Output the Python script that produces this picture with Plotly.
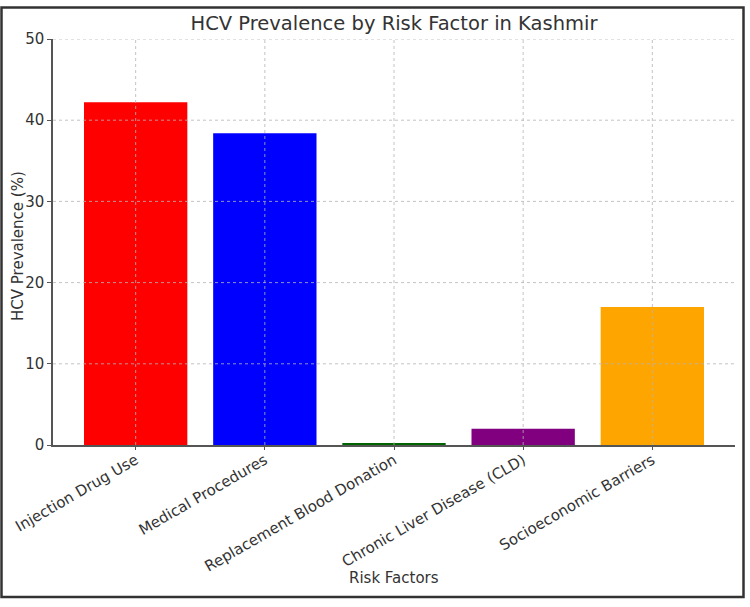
import plotly.graph_objects as go

categories = ["Injection Drug Use", "Medical Procedures", "Replacement Blood Donation",
              "Chronic Liver Disease (CLD)", "Socioeconomic Barriers"]
prevalence = [42.2, 38.4, 0.2, 2.0, 17.0]
bar_colors = ["#ff0000", "#0000ff", "#006400", "#800080", "#ffa500"]
y_ticks = [0, 10, 20, 30, 40, 50]

FONT = "DejaVu Sans"
L, R, T, B = 53, 15, 39, 162
W, H = 750, 607
pw, ph = W - L - R, H - T - B
x_idx = list(range(len(categories)))

fig = go.Figure(go.Bar(
    x=x_idx, y=prevalence,
    marker=dict(color=bar_colors, line=dict(width=0)),
    width=0.8,
))

fig.update_layout(
    width=W, height=H,
    margin=dict(l=L, r=R, t=T, b=B, autoexpand=False),
    paper_bgcolor="white", plot_bgcolor="white",
    font=dict(family=FONT, color="#333333"),
    showlegend=False,
    title=dict(text="HCV Prevalence by Risk Factor in Kashmir", x=(L + pw / 2) / W, xanchor="center",
               y=1 - 23 / H, yanchor="middle", font=dict(size=19.5, color="#333333")),
    xaxis=dict(range=[-0.64, 4.64], tickmode="array", tickvals=x_idx,
               ticktext=categories, tickangle=-30, tickfont=dict(size=15),
               ticklabelstandoff=-4,
               showline=True, linecolor="#555555", linewidth=1.5, showgrid=False,
               ticks="outside", ticklen=3, tickcolor="#555555", zeroline=False),
    yaxis=dict(range=[0, 50], tickmode="array", tickvals=y_ticks, tickfont=dict(size=15),
               showline=True, linecolor="#555555", linewidth=1.5, showgrid=False,
               ticks="outside", ticklen=4, tickcolor="#555555", zeroline=False),
)

# Axis titles placed as annotations
def px2x(px):
    return (px - L) / pw

def py2y(py):
    return (H - B - py) / ph

fig.add_annotation(text="Risk Factors", xref="paper", yref="paper", x=0.5, y=py2y(578),
                   xanchor="center", yanchor="middle", showarrow=False, font=dict(size=15))
fig.add_annotation(text="HCV Prevalence (%)", xref="paper", yref="paper", x=px2x(18), y=py2y(246),
                   xanchor="center", yanchor="middle", textangle=-90, showarrow=False,
                   font=dict(size=15))

# Dotted grid drawn above the bars (as in the reference)
grid_line = dict(color="rgba(180,180,180,0.8)", width=1, dash="dot")
for v in y_ticks[1:]:
    fig.add_shape(type="line", xref="paper", yref="y", x0=0, x1=1, y0=v, y1=v,
                  line=grid_line, layer="above")
for i in x_idx:
    fig.add_shape(type="line", xref="x", yref="paper", x0=i, x1=i, y0=0, y1=1,
                  line=grid_line, layer="above")

# Outer image frame
fig.add_shape(type="rect", xref="paper", yref="paper",
              x0=px2x(1.5), x1=px2x(743.5), y0=py2y(597), y1=py2y(7.5),
              line=dict(color="#333333", width=2.5), fillcolor="rgba(0,0,0,0)", layer="above")

fig.write_html("out.html")
